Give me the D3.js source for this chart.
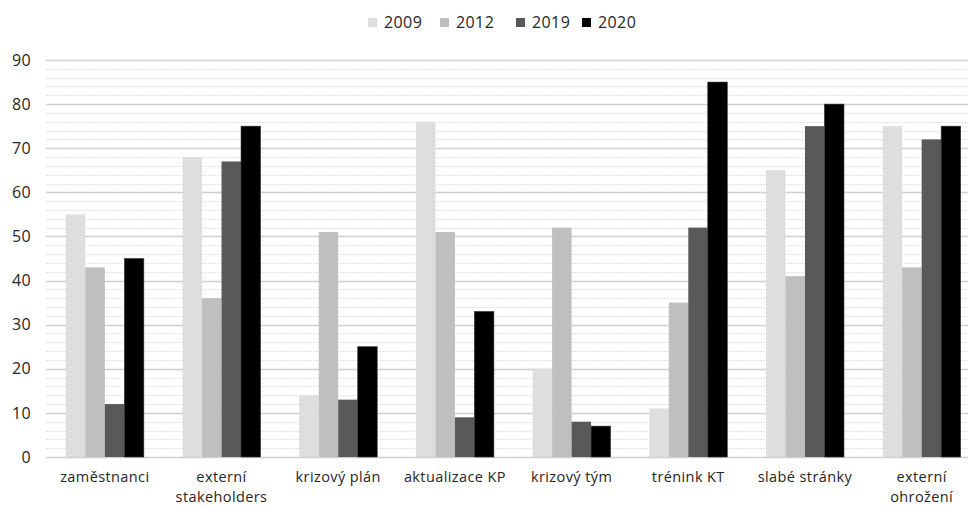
<!DOCTYPE html>
<html>
<head>
<meta charset="utf-8">
<script src="https://cdn.jsdelivr.net/npm/d3@7"></script>
<style>
  html, body { margin: 0; padding: 0; background: #fff; }
  svg { display: block; }
  text { font-family: "Open Sans", "Noto Sans", sans-serif; fill: #262626; letter-spacing: 0.4px; }
</style>
</head>
<body>
<svg id="chart" width="968" height="506"></svg>
<script>
// Survey categories (two-line labels split with "\n")
const categories = [
  "zaměstnanci",
  "externí\nstakeholders",
  "krizový plán",
  "aktualizace KP",
  "krizový tým",
  "trénink KT",
  "slabé stránky",
  "externí\nohrožení"
];
const seriesNames = ["2009", "2012", "2019", "2020"];
const values2009 = [55, 68, 14, 76, 20, 11, 65, 75];
const values2012 = [43, 36, 51, 51, 52, 35, 41, 43];
const values2019 = [12, 67, 13, 9, 8, 52, 75, 72];
const values2020 = [45, 75, 25, 33, 7, 85, 80, 75];
const yTicks = [0, 10, 20, 30, 40, 50, 60, 70, 80, 90];

const seriesValues = [values2009, values2012, values2019, values2020];
const seriesFill = ["url(#dots2009)", "#bfbfbf", "#595959", "#000000"];

const svg = d3.select("#chart");
const W = 968, H = 506;

// Speckled fill for the 2009 series
const defs = svg.append("defs");
const pat = defs.append("pattern")
  .attr("id", "dots2009").attr("patternUnits", "userSpaceOnUse")
  .attr("width", 4).attr("height", 4);
pat.append("rect").attr("width", 4).attr("height", 4).attr("fill", "#dedede");
pat.append("rect").attr("x", 0).attr("y", 0).attr("width", 1).attr("height", 1).attr("fill", "#d0d0d0");
pat.append("rect").attr("x", 2).attr("y", 2).attr("width", 1).attr("height", 1).attr("fill", "#d2d2d2");
pat.append("rect").attr("x", 3).attr("y", 1).attr("width", 1).attr("height", 1).attr("fill", "#e9e9e9");
pat.append("rect").attr("x", 1).attr("y", 3).attr("width", 1).attr("height", 1).attr("fill", "#e6e6e6");

const x0 = d3.scaleBand().domain(categories).range([46.5, 980]).paddingInner(0).paddingOuter(0);
const x1 = d3.scaleBand().domain(seriesNames).range([0, 78]);
const groupOffset = (x0.bandwidth() - 78) / 2;
const y = d3.scaleLinear().domain([0, 90]).range([457, 60]);

// Minor gridlines every 2 units
const minor = d3.range(0, 91, 2).filter(v => v % 10 !== 0);
svg.append("g").selectAll("line").data(minor).join("line")
  .attr("x1", 46).attr("x2", W)
  .attr("y1", d => Math.round(y(d)) + 0.5).attr("y2", d => Math.round(y(d)) + 0.5)
  .attr("stroke", "#e3e3e3").attr("stroke-width", 1.2)
  .attr("stroke-dasharray", "2,1");

// Major gridlines
svg.append("g").selectAll("line").data(yTicks).join("line")
  .attr("x1", 46).attr("x2", W)
  .attr("y1", d => Math.round(y(d)) + 0.5).attr("y2", d => Math.round(y(d)) + 0.5)
  .attr("stroke", "#d0d0d0").attr("stroke-width", 1.3);

// Y axis labels
const yAxis = d3.axisLeft(y).tickValues(yTicks).tickSize(0).tickPadding(0);
const gy = svg.append("g").attr("transform", "translate(31,0)").call(yAxis);
gy.select(".domain").remove();
gy.selectAll("text").style("font-size", "16px").style("font-family", "'Open Sans', sans-serif").attr("fill", "#262626");

// Bars
const groups = svg.append("g").selectAll("g").data(categories).join("g")
  .attr("transform", d => `translate(${x0(d) + groupOffset},0)`);
groups.selectAll("rect")
  .data((c, i) => seriesNames.map((s, k) => ({ s, k, v: seriesValues[k][i] })))
  .join("rect")
  .attr("x", d => x1(d.s))
  .attr("width", x1.bandwidth())
  .attr("y", d => y(d.v))
  .attr("height", d => y(0) - y(d.v))
  .attr("fill", d => seriesFill[d.k])
  .attr("stroke", d => d.k === 3 ? "#333" : "none")
  .attr("stroke-width", 0.6);

// Category labels, one text element per line
const gx = svg.append("g");
categories.forEach(c => {
  const cx = x0(c) + x0.bandwidth() / 2;
  c.split("\n").forEach((ln, i) => {
    gx.append("text")
      .attr("x", cx)
      .attr("y", 482 + i * 19.5)
      .attr("text-anchor", "middle")
      .style("font-size", "14.5px")
      .text(ln);
  });
});

// Legend
const legend = svg.append("g");
const legendX = [368, 440, 516, 582];
seriesNames.forEach((s, k) => {
  const g = legend.append("g").attr("transform", `translate(${legendX[k]},0)`);
  g.append("rect").attr("x", 0).attr("y", 18).attr("width", 9).attr("height", 9)
    .attr("fill", seriesFill[k]);
  g.append("text").attr("x", 16).attr("y", 28).style("font-size", "16px").text(s);
});
</script>
</body>
</html>
